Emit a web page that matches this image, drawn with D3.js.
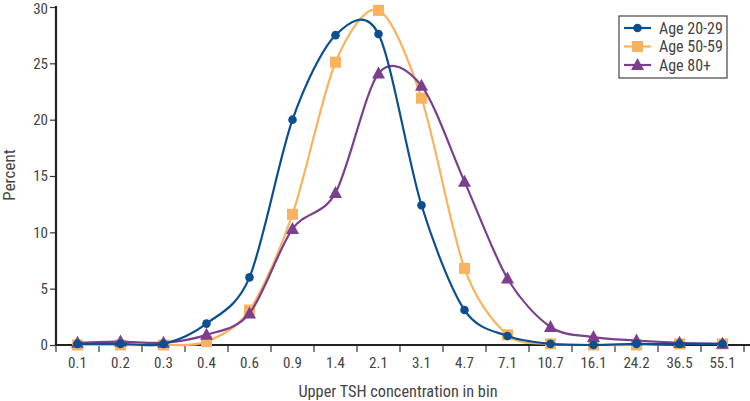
<!DOCTYPE html>
<html><head><meta charset="utf-8">
<script src="https://cdn.jsdelivr.net/npm/d3@7"></script>
<style>
body{margin:0;background:#fff;}
text{font-family:"Roboto Condensed",Roboto,sans-serif;fill:#444;}
</style></head><body>
<svg id="c" width="750" height="401"></svg>
<script>
const categories = ["0.1","0.2","0.3","0.4","0.6","0.9","1.4","2.1","3.1","4.7","7.1","10.7","16.1","24.2","36.5","55.1"];
const age2029 = [0.1,0.1,0.1,1.9,6.0,20.0,27.5,27.6,12.4,3.1,0.8,0.1,0.0,0.1,0.1,0.1];
const age5059 = [0.0,0.0,0.0,0.3,3.1,11.6,25.1,29.7,21.9,6.8,0.9,0.1,0.0,0.0,0.1,0.1];
const age80   = [0.2,0.3,0.2,0.9,2.8,10.3,13.5,24.1,23.0,14.5,5.9,1.6,0.7,0.4,0.2,0.1];
const yTicks = [0,5,10,15,20,25,30];
const seriesNames = ["Age 20-29","Age 50-59","Age 80+"];

const series = [
  {name:seriesNames[1], values:age5059, color:"#f9b35e", marker:"square"},
  {name:seriesNames[2], values:age80, color:"#7b3f8e", marker:"triangle"},
  {name:seriesNames[0], values:age2029, color:"#0b4f8f", marker:"circle"}
];
const legendOrder = [series[2], series[0], series[1]];

const svg = d3.select("#c");
const x = d3.scaleBand().domain(categories).range([56,744]);
const y = d3.scaleLinear().domain([0,30]).range([345,7]);

const yAxis = svg.append("g").attr("transform","translate(56,0)")
  .call(d3.axisLeft(y).tickValues(yTicks).tickSize(6).tickSizeOuter(0));
yAxis.select(".domain").remove();
yAxis.selectAll(".tick line").attr("stroke","#333").attr("stroke-width",1.2);
yAxis.selectAll(".tick text").attr("font-size","15px").attr("x",-8).attr("font-family",null).style("fill","#444")
  .attr("dy",d=>d===30?"0.42em":"0.32em");
svg.append("line").attr("x1",56).attr("x2",56).attr("y1",y(30)-1).attr("y2",y(0)+1)
  .attr("stroke","#222").attr("stroke-width",2.2);

const xg = svg.append("g").attr("transform","translate(0,345)");
xg.selectAll("line.tk").data(categories).enter().append("line").attr("class","tk")
  .attr("x1",d=>x(d)+x.bandwidth()).attr("x2",d=>x(d)+x.bandwidth())
  .attr("y1",0).attr("y2",7).attr("stroke","#333").attr("stroke-width",1.2);
xg.append("line").attr("x1",56).attr("x2",56).attr("y1",0).attr("y2",7).attr("stroke","#333").attr("stroke-width",1.2);
xg.selectAll("text.lb").data(categories).enter().append("text").attr("class","lb")
  .attr("x",d=>x(d)+x.bandwidth()/2).attr("y",22.5).attr("text-anchor","middle")
  .attr("font-size","15px").text(d=>d);
svg.append("line").attr("x1",55).attr("x2",750).attr("y1",345).attr("y2",345)
  .attr("stroke","#222").attr("stroke-width",2.2);

svg.append("text").attr("x",398).attr("y",397).attr("text-anchor","middle")
  .attr("font-size","16.3px").text("Upper TSH concentration in bin");
svg.append("text").attr("transform","translate(15,175) rotate(-90)").attr("text-anchor","middle")
  .attr("font-size","17px").text("Percent");

const line = d3.line().x((d,i)=>x(categories[i])+x.bandwidth()/2).y(d=>y(d))
  .curve(d3.curveCardinal.tension(0.1));

function drawMarker(g, type, cx, cy, color){
  if(type==="circle") g.append("circle").attr("cx",cx).attr("cy",cy).attr("r",4.3).attr("fill",color);
  else if(type==="square") g.append("rect").attr("x",cx-5.5).attr("y",cy-5.5).attr("width",11).attr("height",11).attr("fill",color);
  else g.append("path").attr("d",`M${cx},${cy-7}L${cx+6.5},${cy+5}L${cx-6.5},${cy+5}Z`).attr("fill",color);
}

series.forEach(s=>{
  const g = svg.append("g");
  g.append("path").datum(s.values).attr("d",line).attr("fill","none")
    .attr("stroke",s.color).attr("stroke-width",2.2);
  s.values.forEach((v,i)=>drawMarker(g,s.marker,x(categories[i])+x.bandwidth()/2,y(v),s.color));
});

const lg = svg.append("g");
lg.append("rect").attr("x",619).attr("y",16).attr("width",108).attr("height",62)
  .attr("fill","#fff").attr("stroke","#444").attr("stroke-width",1.2);
legendOrder.forEach((s,i)=>{
  const yy = 28 + i*18.5;
  lg.append("line").attr("x1",624).attr("x2",651).attr("y1",yy).attr("y2",yy)
    .attr("stroke",s.color).attr("stroke-width",2.2);
  drawMarker(lg,s.marker,637.5,yy,s.color);
  lg.append("text").attr("x",659).attr("y",yy+5.5).attr("font-size","16px").text(s.name);
});
</script></body></html>
